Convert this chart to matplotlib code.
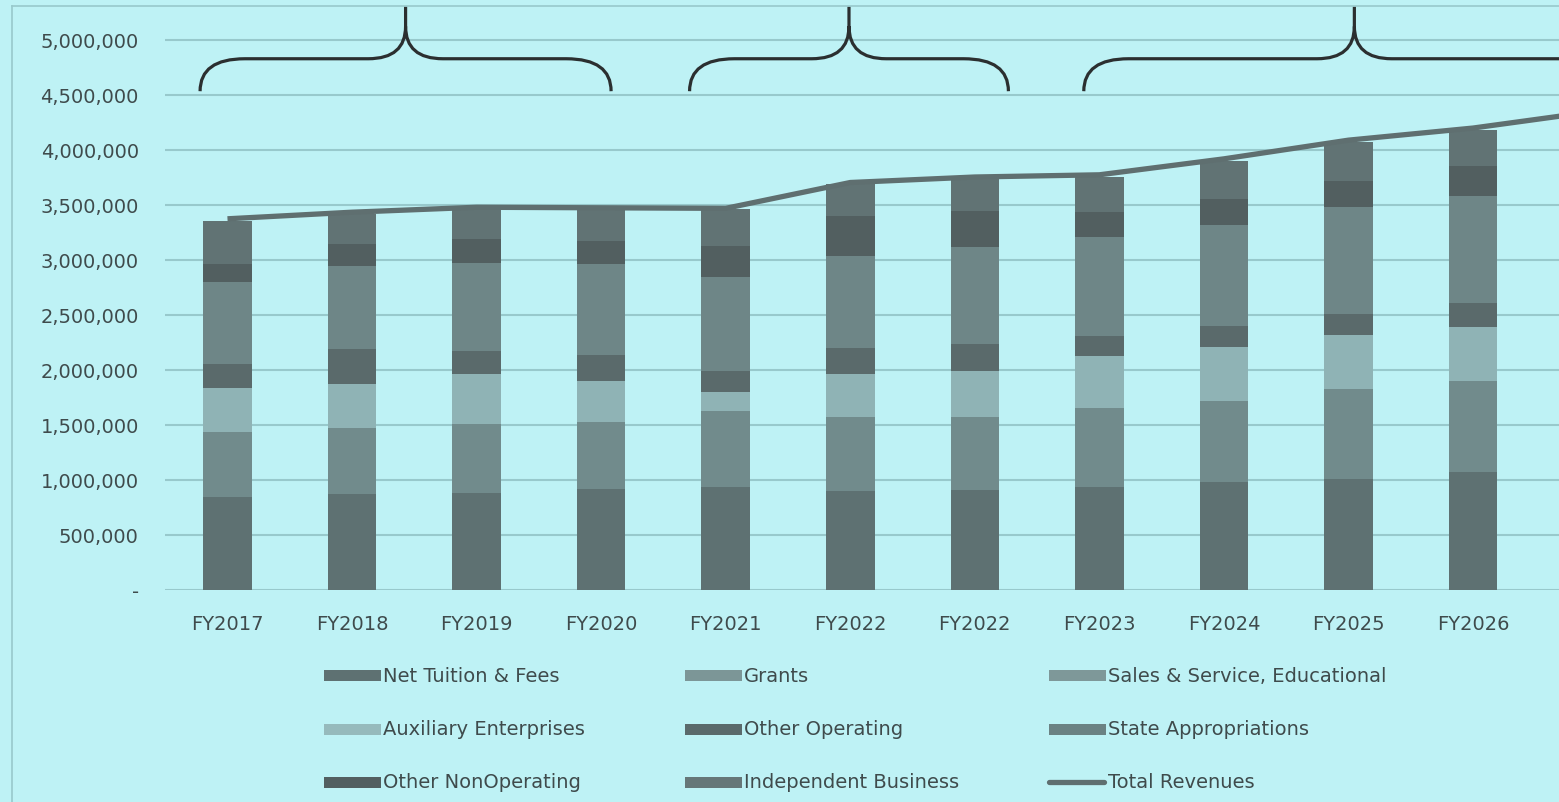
import matplotlib
matplotlib.use("Agg")
import matplotlib.pyplot as plt
from matplotlib.path import Path
import matplotlib.patches as patches
from matplotlib.lines import Line2D
from matplotlib.ticker import FuncFormatter

# categories (the second FY2022 is in the original)
years = ["FY2017", "FY2018", "FY2019", "FY2020", "FY2021", "FY2022",
         "FY2022", "FY2023", "FY2024", "FY2025", "FY2026"]

# stacked series, bottom to top (dollars)
net_tuition = [841000, 868000, 877000, 914000, 932000, 895000, 905000, 932000, 977000, 1005000, 1068000]
grants = [591000, 600000, 627000, 609000, 691000, 673000, 664000, 718000, 736000, 818000, 827000]
sales_service = [0, 0, 0, 0, 0, 0, 0, 0, 0, 0, 0]
auxiliary = [400000, 400000, 455000, 373000, 173000, 391000, 418000, 473000, 491000, 491000, 491000]
other_operating = [218000, 318000, 209000, 236000, 191000, 236000, 245000, 182000, 191000, 191000, 218000]
state_approp = [745000, 755000, 800000, 827000, 855000, 836000, 882000, 900000, 918000, 973000, 973000]
other_nonop = [164000, 200000, 218000, 209000, 282000, 364000, 327000, 227000, 236000, 236000, 273000]
indep_business = [391000, 273000, 273000, 282000, 336000, 291000, 291000, 318000, 345000, 355000, 327000]

# total revenues line (last point belongs to the cropped-off next year)
total_revenues = [3370000, 3430000, 3475000, 3470000, 3465000, 3700000,
                  3750000, 3770000, 3915000, 4085000, 4195000, 4350000]

series_names = ["Net Tuition & Fees", "Grants", "Sales & Service, Educational",
                "Auxiliary Enterprises", "Other Operating", "State Appropriations",
                "Other NonOperating", "Independent Business"]
series_values = [net_tuition, grants, sales_service, auxiliary,
                 other_operating, state_approp, other_nonop, indep_business]
series_colors = ["#5e7172", "#718b8c", "#7e9a9b", "#8fb3b5",
                 "#5a6a6b", "#6e8687", "#525f60", "#617374"]
legend_colors = ["#5e7172", "#7c9697", "#7e9899", "#96babc",
                 "#5a6a6b", "#6b8283", "#525f60", "#667778"]
line_color = "#5f6f70"

# braces over the groups of years (start, end in category units)
braces = [(-0.22, 3.08), (3.71, 6.27), (6.875, 11.22)]

bg = "#bef2f5"
text_color = "#3f4b4c"
grid_color = "#98c9cc"

W, H = 1559, 803
fig = plt.figure(figsize=(W / 100, H / 100), dpi=100, facecolor=bg)

ax_left, ax_right = 165.2, 1559
y_zero, px_per_m = 590.5, 110.0
ymax = 5320000
y_top = y_zero - ymax / 1e6 * px_per_m
ax = fig.add_axes([ax_left / W, 1 - y_zero / H, (ax_right - ax_left) / W, (y_zero - y_top) / H])
ax.set_facecolor(bg)

x = list(range(len(years)))
bottom = [0] * len(years)
for vals, col in zip(series_values, series_colors):
    ax.bar(x, vals, width=0.39, bottom=bottom, color=col, linewidth=0, zorder=2)
    bottom = [b + v for b, v in zip(bottom, vals)]

ax.plot(range(len(total_revenues)), total_revenues, color=line_color, lw=3.8,
        solid_capstyle="butt", zorder=3, clip_on=True)

ax.set_xlim(-0.5, (ax_right - 227.5) / 124.55)
ax.set_ylim(0, ymax)
ax.set_yticks(range(0, 5000001, 500000))
ax.yaxis.set_major_formatter(FuncFormatter(lambda v, p: "-" if v == 0 else f"{int(v):,}"))
ax.set_xticks(x)
ax.set_xticklabels(years)
ax.tick_params(axis="both", length=0, colors=text_color, labelsize=14)
ax.tick_params(axis="y", pad=19)
ax.tick_params(axis="x", pad=18)
ax.grid(axis="y", color=grid_color, lw=1.5, zorder=0)
ax.set_axisbelow(True)
for s in ax.spines.values():
    s.set_visible(False)

# braces
for x0, x1 in braces:
    xm = (x0 + x1) / 2
    yb, yh, yt1, ytip = 4530000, 4825000, 5120000, 5300000
    dxe, dxt = 0.36, 0.30
    verts = [(x0, yb), (x0, yh), (x0 + dxe, yh), (xm - dxt, yh), (xm, yh), (xm, yt1), (xm, ytip),
             (xm, yt1), (xm, yh), (xm + dxt, yh), (x1 - dxe, yh), (x1, yh), (x1, yb)]
    codes = [Path.MOVETO, Path.CURVE3, Path.CURVE3, Path.LINETO, Path.CURVE3, Path.CURVE3, Path.LINETO,
             Path.MOVETO, Path.CURVE3, Path.CURVE3, Path.LINETO, Path.CURVE3, Path.CURVE3]
    ax.add_patch(patches.PathPatch(Path(verts, codes), facecolor="none", edgecolor="#2b2f30",
                                   lw=2.3, zorder=4, clip_on=False))

# chart border (top and left visible, rest cropped)
fig.add_artist(Line2D([12 / W, 1], [1 - 7 / H, 1 - 7 / H], color=grid_color, lw=1.2))
fig.add_artist(Line2D([12 / W, 12 / W], [0, 1 - 7 / H], color=grid_color, lw=1.2))

# legend laid out like the Excel one: 3 columns, filled row by row
col_x = [324, 685, 1049]
row_y = [676.5, 730, 783]
entries = list(zip(series_names, legend_colors)) + [("Total Revenues", None)]
for i, (name, col) in enumerate(entries):
    cx = col_x[i % 3]
    cy = row_y[i // 3]
    if col is None:
        fig.add_artist(Line2D([cx / W, (cx + 55) / W], [1 - cy / H, 1 - cy / H],
                              color=line_color, lw=3.8, solid_capstyle="round"))
    else:
        fig.add_artist(patches.Rectangle((cx / W, 1 - (cy + 5.5) / H), 57 / W, 11 / H,
                                         transform=fig.transFigure, facecolor=col, edgecolor="none"))
    fig.text((cx + 59) / W, 1 - cy / H, name, fontsize=14, color=text_color,
             ha="left", va="center")

fig.savefig("out.png", dpi=100, facecolor=bg)
